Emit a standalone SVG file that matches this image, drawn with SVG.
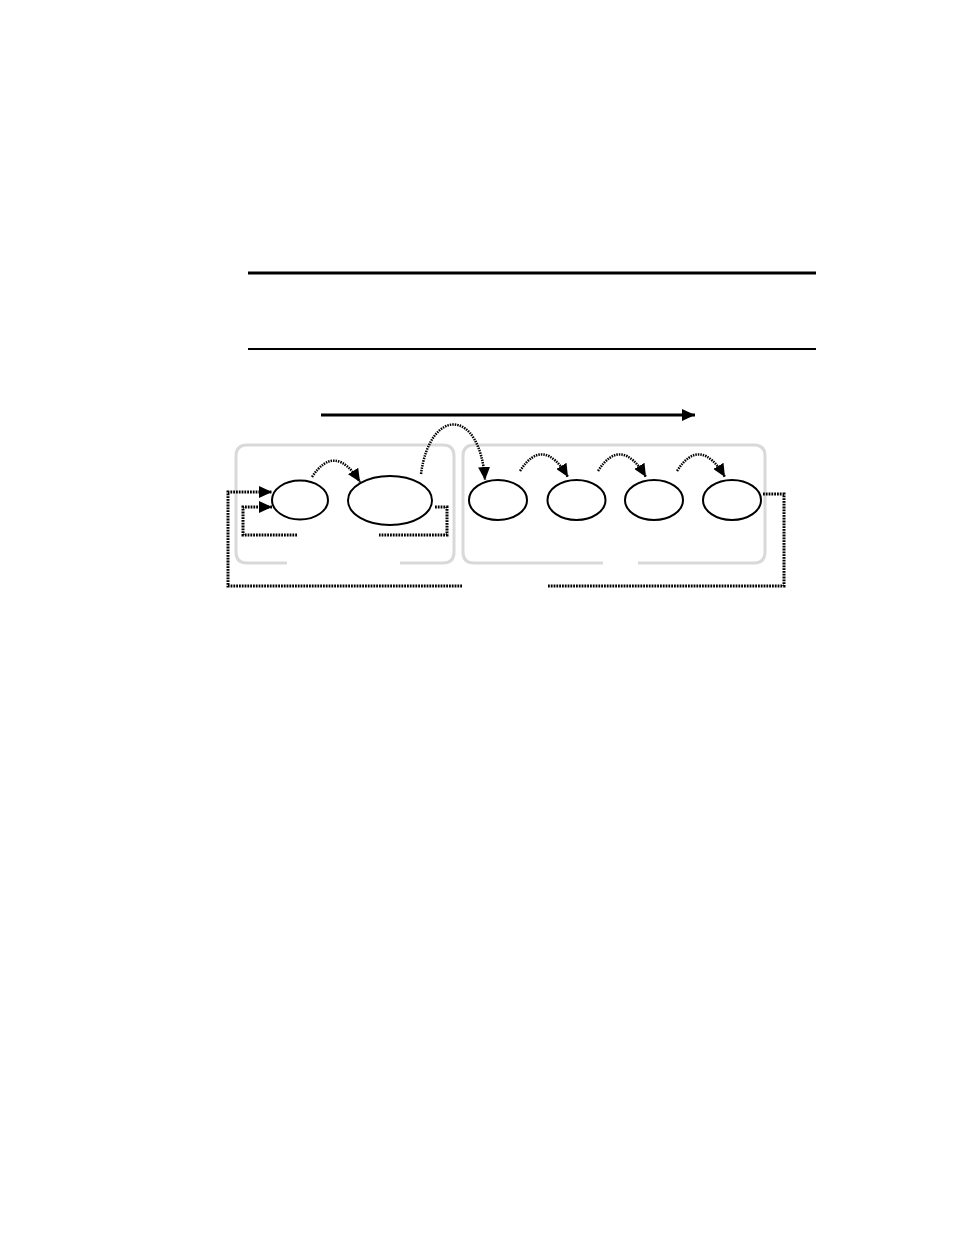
<svg xmlns="http://www.w3.org/2000/svg" width="954" height="1235" viewBox="0 0 954 1235">
<style>
.node{fill:none;stroke:#000;stroke-width:2}
.grp{fill:none;stroke:#d9d9d9;stroke-width:3}
.dot{fill:none;stroke:#000;stroke-width:3;stroke-dasharray:1.8 1}
.arc{fill:none;stroke:#000;stroke-width:2.5;stroke-dasharray:1.5 1}
</style>
<defs>
<marker id="ah" markerWidth="14" markerHeight="12" refX="13" refY="6" orient="auto" markerUnits="userSpaceOnUse"><path d="M0,0 L13,6 L0,12 z" fill="#000"/></marker>
</defs>
<rect width="954" height="1235" fill="#fff"/>
<g id="rules">
<line x1="248" y1="273" x2="816" y2="273" stroke="#000" stroke-width="3"/>
<line x1="248" y1="349" x2="816" y2="349" stroke="#000" stroke-width="2"/>
</g>
<g id="group-left">
<path class="grp" d="M287,563 H247 Q236,563 236,552 V456 Q236,445 247,445 H443 Q454,445 454,456 V552 Q454,563 443,563 H400"/>
</g>
<g id="group-right">
<path class="grp" d="M603,563 H474 Q463,563 463,552 V456 Q463,445 474,445 H754 Q765,445 765,456 V552 Q765,563 754,563 H638"/>
</g>
<g id="n1"><ellipse class="node" cx="300" cy="500" rx="28" ry="19.5"/></g>
<g id="n2"><ellipse class="node" cx="390" cy="500.5" rx="42" ry="24.5"/></g>
<g id="n3"><ellipse class="node" cx="498" cy="500" rx="29" ry="20"/></g>
<g id="n4"><ellipse class="node" cx="576.5" cy="500" rx="29" ry="20"/></g>
<g id="n5"><ellipse class="node" cx="654" cy="500" rx="29" ry="20"/></g>
<g id="n6"><ellipse class="node" cx="732" cy="500" rx="29" ry="20"/></g>
<g id="connectors">
<line x1="321" y1="415" x2="695" y2="415" stroke="#000" stroke-width="3" marker-end="url(#ah)"/>
<path class="arc" d="M312,477 Q335,442 360,482" marker-end="url(#ah)"/>
<path class="arc" d="M421,474 C430,407 480,407 485,480" marker-end="url(#ah)"/>
<path class="arc" d="M520,471 Q543,435 568,477" marker-end="url(#ah)"/>
<path class="arc" d="M598,471 Q621,435 646,477" marker-end="url(#ah)"/>
<path class="arc" d="M677,471 Q700,435 725,477" marker-end="url(#ah)"/>
<path class="dot" d="M763,494 H784 V586 H547"/>
<path class="dot" d="M462,586 H228 V492 H272" marker-end="url(#ah)"/>
<path class="dot" d="M435,507 H447 V535 H379"/>
<path class="dot" d="M297,535 H243 V507 H272" marker-end="url(#ah)"/>
</g>
</svg>
